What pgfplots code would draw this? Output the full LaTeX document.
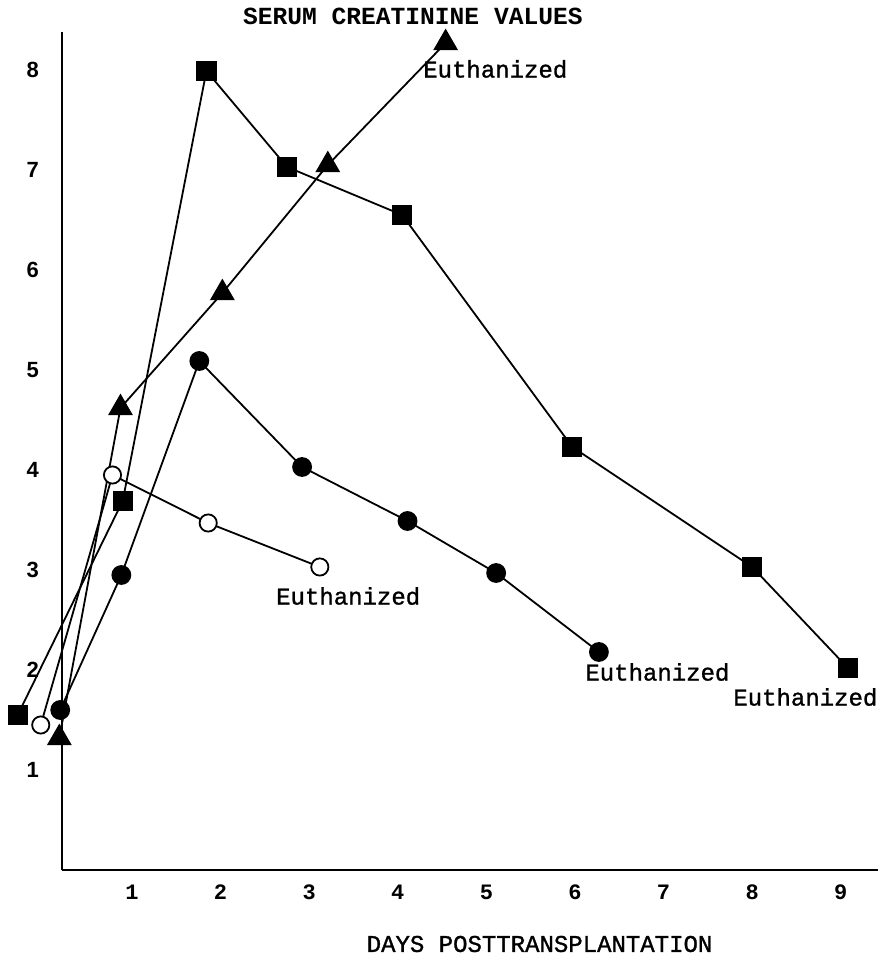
\documentclass[border=0pt]{standalone}
\usepackage{fontspec}
\setmainfont{Liberation Mono}
\newfontfamily\sansfont{Liberation Sans}
\newfontfamily\medmono[FakeBold=1.2]{Liberation Mono}
\usepackage{pgfplots}
\pgfplotsset{compat=1.18}

\begin{document}
\begin{tikzpicture}
\begin{axis}[
  scale only axis,
  width=408pt, height=419pt,
  xmin=0.21, xmax=9.42, ymin=0, ymax=8.38,
  axis x line*=bottom, axis y line*=left,
  axis line style={-, line width=0.7pt},
  xtick={1,...,9}, ytick={1,...,8},
  major tick length=0pt,
  /pgf/number format/assume math mode=true,
  xticklabel style={font=\fontsize{11}{13}\selectfont\bfseries, yshift=-4pt},
  yticklabel style={font=\sansfont\bfseries\fontsize{11}{13}\selectfont, xshift=-8pt},
  clip=false,
  every axis plot/.append style={line width=0.9pt, black},
]
% squares
\addplot[mark=square*, mark size=4.6pt, mark options={solid, fill=black}] coordinates {
(-0.29,1.55) (0.895,3.69) (1.84,7.99) (2.75,7.03) (4.05,6.55) (5.97,4.23) (8.00,3.03) (9.08,2.02)
};
% triangles
\addplot[mark=triangle*, mark size=6.3pt, mark options={solid, fill=black}] coordinates {
(0.18,1.32) (0.87,4.62) (2.02,5.77) (3.21,7.05) (4.54,8.27)
};
% filled circles
\addplot[mark=*, mark size=4.5pt, mark options={solid, fill=black}] coordinates {
(0.19,1.60) (0.88,2.95) (1.76,5.09) (2.92,4.03) (4.11,3.49) (5.11,2.97) (6.27,2.18)
};
% open circles
\addplot[mark=*, mark size=4.3pt, mark options={solid, fill=white}] coordinates {
(-0.03,1.45) (0.78,3.95) (1.86,3.47) (3.12,3.03)
};
\node[font=\medmono\fontsize{12}{14}\selectfont] at (axis cs:5.10,8.01) {Euthanized};
\node[font=\medmono\fontsize{12}{14}\selectfont] at (axis cs:3.44,2.74) {Euthanized};
\node[font=\medmono\fontsize{12}{14}\selectfont] at (axis cs:6.93,1.98) {Euthanized};
\node[font=\medmono\fontsize{12}{14}\selectfont] at (axis cs:8.60,1.73) {Euthanized};
\node[font=\fontsize{12.3}{14}\selectfont\bfseries] at (axis cs:4.17,8.54) {SERUM CREATININE VALUES};
\node[font=\medmono\fontsize{12}{14}\selectfont] at (axis cs:5.60,-0.74) {DAYS POSTTRANSPLANTATION};
\coordinate (BL) at (axis cs:-0.4898,-0.92);
\coordinate (TR) at (axis cs:9.4650,8.70);
\end{axis}
\pgfresetboundingbox
\path[use as bounding box] (BL) rectangle (TR);
\end{tikzpicture}
\end{document}
